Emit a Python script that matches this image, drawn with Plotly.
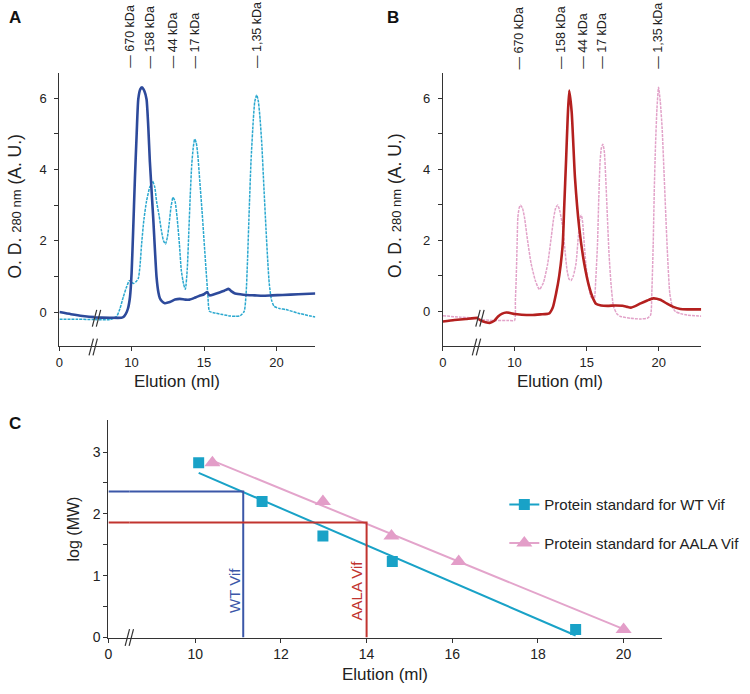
import numpy as np
import plotly.graph_objects as go

W, H = 750, 694
FONT = "Arial, 'Liberation Sans', Helvetica, sans-serif"
AXC = "#333333"

# ---------------- data ----------------
std_labels = ["670 kDa", "158 kDa", "44 kDa", "17 kDa", "1,35 kDa"]
std_mw_kda = [670, 158, 44, 17, 1.35]

# Panel A: WT Vif elution profile and protein standard
a_wt_x = [0, 0.8, 1.6, 2.42, 7.44, 8.5, 9.3, 9.43, 9.6, 9.75, 9.89, 10.0, 10.1, 10.23, 10.35,
          10.46, 10.6, 10.73, 10.88, 11.03, 11.15, 11.26, 11.49, 11.72, 11.85, 11.95, 12.1,
          12.29, 12.64, 13.0, 13.32, 13.7, 14.01, 14.35, 14.69, 15.0, 15.2, 15.38, 15.7,
          16.07, 16.4, 16.71, 16.9, 17.1, 17.5, 17.89, 18.5, 19.04, 19.7, 20.41, 21.5, 22.68]
a_wt_y = [0.0, -0.06, -0.11, -0.14, -0.15, -0.16, -0.16, -0.14, -0.05, 0.1, 0.43, 1.1, 2.2,
          3.76, 5.0, 5.97, 6.25, 6.30, 6.2, 5.97, 5.2, 4.22, 2.65, 0.99, 0.55, 0.39, 0.3, 0.25,
          0.28, 0.35, 0.37, 0.35, 0.35, 0.4, 0.46, 0.5, 0.56, 0.47, 0.5, 0.55, 0.6, 0.65, 0.58,
          0.53, 0.5, 0.48, 0.47, 0.46, 0.47, 0.48, 0.5, 0.52]
a_std_x = [0, 1.2, 2.42, 7.44, 8.5, 8.97, 9.2, 9.43, 9.65, 9.84, 10.0, 10.12, 10.3, 10.46,
           10.58, 10.69, 10.85, 11.03, 11.25, 11.44, 11.6, 11.72, 11.9, 12.06, 12.2, 12.34,
           12.47, 12.59, 12.72, 12.86, 13.0, 13.14, 13.3, 13.43, 13.58, 13.71, 13.84, 13.96,
           14.05, 14.15, 14.25, 14.35, 14.46, 14.57, 14.7, 14.86, 15.0, 15.14, 15.26, 15.38,
           15.8, 16.29, 16.8, 17.2, 17.5, 17.77, 17.9, 18.0, 18.12, 18.24, 18.4, 18.5, 18.63,
           18.75, 18.87, 18.99, 19.13, 19.27, 19.4, 19.5, 19.65, 19.84, 20.2, 20.65, 21.5, 22.68]
a_std_y = [-0.2, -0.2, -0.21, -0.21, -0.21, -0.12, 0.1, 0.43, 0.7, 0.88, 0.85, 0.8, 0.85, 0.94,
           1.3, 1.91, 2.6, 3.11, 3.5, 3.67, 3.5, 3.11, 2.7, 2.28, 2.0, 1.91, 2.1, 2.47, 2.95,
           3.22, 3.1, 2.65, 1.9, 1.17, 0.8, 0.64, 1.2, 2.37, 3.3, 4.13, 4.6, 4.85, 4.75, 4.4,
           3.7, 2.84, 2.0, 1.17, 0.5, 0.02, -0.03, -0.07, -0.11, -0.12, -0.1, 0.02, 0.5, 1.45,
           2.9, 4.22, 5.4, 5.9, 6.09, 5.9, 5.4, 4.68, 3.5, 2.37, 1.4, 0.8, 0.35, 0.16, 0.1,
           0.07, -0.03, -0.14]
a_label_x = [9.89, 11.26, 12.86, 14.39, 18.64]

# Panel B: AALA Vif elution profile and protein standard
b_aala_x = [0, 0.8, 1.6, 2.44, 7.48, 7.7, 8.0, 8.28, 8.6, 8.86, 9.15, 9.43, 9.7, 10.0, 10.5,
            11.15, 11.8, 12.41, 12.65, 12.88, 13.1, 13.34, 13.45, 13.57, 13.68, 13.79, 13.96,
            14.19, 14.48, 14.83, 15.17, 15.4, 15.64, 16.0, 16.44, 17.0, 17.48, 17.8, 18.06,
            18.4, 18.74, 19.2, 19.61, 20.1, 20.57, 21.0, 21.49, 22.0, 22.94]
b_aala_y = [-0.29, -0.25, -0.22, -0.19, -0.22, -0.27, -0.31, -0.33, -0.27, -0.15, -0.07,
            -0.04, -0.05, -0.08, -0.1, -0.11, -0.09, -0.06, 0.1, 0.5, 1.0, 1.89, 3.0, 4.22,
            5.4, 6.21, 5.61, 3.75, 2.36, 1.34, 0.69, 0.4, 0.21, 0.16, 0.15, 0.16, 0.15, 0.12,
            0.10, 0.15, 0.22, 0.3, 0.36, 0.32, 0.21, 0.12, 0.06, 0.05, 0.05]
b_std_x = [0, 1.2, 2.44, 7.48, 8.5, 9.5, 10.0, 10.06, 10.12, 10.18, 10.23, 10.32, 10.41, 10.55,
           10.69, 10.9, 11.15, 11.45, 11.72, 12.0, 12.3, 12.55, 12.72, 12.85, 12.99, 13.15,
           13.34, 13.5, 13.64, 13.78, 13.91, 14.08, 14.26, 14.42, 14.55, 14.63, 14.72, 14.83,
           14.94, 15.1, 15.29, 15.42, 15.52, 15.63, 15.75, 15.84, 15.93, 16.02, 16.12, 16.22,
           16.32, 16.44, 16.55, 16.7, 16.86, 17.1, 17.36, 18.0, 18.74, 19.2, 19.43, 19.52,
           19.61, 19.69, 19.77, 19.87, 19.98, 20.1, 20.23, 20.35, 20.46, 20.6, 20.76, 20.95,
           21.15, 21.5, 21.96, 22.94]
b_std_y = [-0.13, -0.17, -0.2, -0.24, -0.26, -0.26, -0.26, 0.3, 0.97, 1.9, 2.64, 2.9, 2.98,
           2.9, 2.64, 2.0, 1.34, 0.85, 0.61, 0.8, 1.34, 2.1, 2.64, 2.9, 2.99, 2.8, 2.36, 1.7,
           1.15, 0.9, 0.86, 1.0, 1.34, 2.1, 2.64, 2.7, 2.5, 1.9, 1.34, 0.8, 0.41, 0.33, 0.32,
           0.9, 1.89, 3.2, 4.22, 4.6, 4.7, 4.5, 3.75, 2.6, 1.6, 0.7, 0.13, -0.08, -0.15, -0.2,
           -0.22, -0.2, -0.11, 0.6, 1.89, 3.5, 4.68, 5.7, 6.3, 5.9, 5.14, 4.0, 2.92, 1.6, 0.5,
           0.1, -0.01, -0.07, -0.11, -0.14]
b_label_x = [10.3, 13.17, 14.79, 16.1, 19.98]

# Panel C: calibration
wt_std_elution = [10.08, 11.56, 12.98, 14.60, 18.88]
aala_std_elution = [10.40, 12.98, 14.58, 16.15, 20.00]
wt_vif_elution, wt_vif_logmw = 11.12, 2.36
aala_vif_elution, aala_vif_logmw = 14.0, 1.86

# ---------------- styling ----------------
NAVY = "#2d4a9b"
CYAN = "#2aa8cf"
RED = "#b4201f"
PINK = "#e2a3c9"
SQ = "#19a2c7"
TRI = "#e39dc8"
TRI_LINE = "#e3a4cb"
WT_LINE = "#3b57a8"
AALA_LINE = "#c1342f"


def px(x):
    return x / W


def py(y):
    return 1 - y / H


fig = go.Figure()

line_common = dict(shape="spline", smoothing=0.55)

# Panel A
for xa in ["x", "x2"]:
    fig.add_trace(go.Scatter(x=a_std_x, y=a_std_y, xaxis=xa, yaxis="y", mode="lines",
                             line=dict(color=CYAN, width=1.5, dash="3px,1px", **line_common),
                             showlegend=False, hoverinfo="skip"))
    fig.add_trace(go.Scatter(x=a_wt_x, y=a_wt_y, xaxis=xa, yaxis="y", mode="lines",
                             line=dict(color=NAVY, width=2.6, **line_common),
                             showlegend=False, hoverinfo="skip"))
# Panel B
for xa in ["x3", "x4"]:
    fig.add_trace(go.Scatter(x=b_std_x, y=b_std_y, xaxis=xa, yaxis="y2", mode="lines",
                             line=dict(color=PINK, width=1.5, dash="3px,1px", **line_common),
                             showlegend=False, hoverinfo="skip"))
    fig.add_trace(go.Scatter(x=b_aala_x, y=b_aala_y, xaxis=xa, yaxis="y2", mode="lines",
                             line=dict(color=RED, width=2.6, **line_common),
                             showlegend=False, hoverinfo="skip"))

# Panel C
log_mw = np.log10(std_mw_kda)
wt_fit = np.polyfit(wt_std_elution, log_mw, 1)
aala_fit = np.polyfit(aala_std_elution, log_mw, 1)
wt_fx = [min(wt_std_elution), max(wt_std_elution)]
aala_fx = [min(aala_std_elution), max(aala_std_elution)]

for xa in ["x5", "x6"]:
    fig.add_trace(go.Scatter(x=wt_fx, y=np.polyval(wt_fit, wt_fx), xaxis=xa, yaxis="y3",
                             mode="lines", line=dict(color=SQ, width=2),
                             showlegend=False, hoverinfo="skip"))
    fig.add_trace(go.Scatter(x=aala_fx, y=np.polyval(aala_fit, aala_fx), xaxis=xa, yaxis="y3",
                             mode="lines", line=dict(color=TRI_LINE, width=2),
                             showlegend=False, hoverinfo="skip"))
    fig.add_trace(go.Scatter(x=[0, wt_vif_elution, wt_vif_elution],
                             y=[wt_vif_logmw, wt_vif_logmw, 0], xaxis=xa, yaxis="y3",
                             mode="lines", line=dict(color=WT_LINE, width=2),
                             showlegend=False, hoverinfo="skip"))
    fig.add_trace(go.Scatter(x=[0, aala_vif_elution, aala_vif_elution],
                             y=[aala_vif_logmw, aala_vif_logmw, 0], xaxis=xa, yaxis="y3",
                             mode="lines", line=dict(color=AALA_LINE, width=2),
                             showlegend=False, hoverinfo="skip"))
    fig.add_trace(go.Scatter(x=wt_std_elution, y=log_mw, xaxis=xa, yaxis="y3", mode="markers",
                             marker=dict(symbol="square", size=11, color=SQ),
                             showlegend=False, hoverinfo="skip"))
    fig.add_trace(go.Scatter(x=aala_std_elution, y=log_mw, xaxis=xa, yaxis="y3", mode="markers",
                             marker=dict(symbol="triangle-up", size=14, color=TRI),
                             showlegend=False, hoverinfo="skip"))

# legend entries
fig.add_trace(go.Scatter(x=[None], y=[None], xaxis="x6", yaxis="y3", mode="lines+markers",
                         name="Protein standard for WT Vif", legendgroup="wt",
                         line=dict(color=SQ, width=2),
                         marker=dict(symbol="square", size=11, color=SQ)))
fig.add_trace(go.Scatter(x=[None], y=[None], xaxis="x6", yaxis="y3", mode="lines+markers",
                         name="Protein standard for AALA Vif", legendgroup="aala",
                         line=dict(color=TRI_LINE, width=2),
                         marker=dict(symbol="triangle-up", size=14, color=TRI)))

ax = dict(showline=True, linecolor=AXC, linewidth=1.2, ticks="outside", ticklen=4,
          tickwidth=1.2, tickcolor=AXC, showgrid=False, zeroline=False,
          tickfont=dict(size=13, color="#222"), fixedrange=True)
axc = dict(ax, tickfont=dict(size=14, color="#222"))

y6 = [0, 1, 2, 3, 4, 5, 6]
y6t = ["0", "", "2", "", "4", "", "6"]

fig.update_layout(
    width=W, height=H, autosize=False,
    margin=dict(l=0, r=0, t=0, b=0),
    paper_bgcolor="white", plot_bgcolor="rgba(0,0,0,0)",
    font=dict(family=FONT, color="#222"),
    showlegend=True,
    legend=dict(x=px(503), y=py(494), xanchor="left", yanchor="top",
                font=dict(size=15, color="#222"), traceorder="grouped",
                tracegroupgap=16, itemwidth=30, bgcolor="rgba(0,0,0,0)"),
    # Panel A
    xaxis=dict(ax, domain=[px(55.7), px(91)], range=[0, 2.42], anchor="y",
               tickvals=[0], ticktext=["0"]),
    xaxis2=dict(ax, domain=[px(91), px(313)], range=[7.44, 22.68], anchor="y",
                tickvals=[10, 15, 20]),
    yaxis=dict(ax, domain=[py(350), py(74)], range=[-0.95, 6.70], anchor="x",
               tickvals=y6, ticktext=y6t, ticklabelstandoff=5),
    # Panel B
    xaxis3=dict(ax, domain=[px(441.3), px(476.7)], range=[0, 2.44], anchor="y2",
                tickvals=[0], ticktext=["0"]),
    xaxis4=dict(ax, domain=[px(476.7), px(701)], range=[7.48, 22.94], anchor="y2",
                tickvals=[10, 15, 20]),
    yaxis2=dict(ax, domain=[py(350), py(74)], range=[-0.98, 6.70], anchor="x3",
                tickvals=y6, ticktext=y6t, ticklabelstandoff=5),
    # Panel C
    xaxis5=dict(axc, domain=[px(105), px(126)], range=[0, 0.4876], anchor="y3",
                tickvals=[0], ticktext=["0"]),
    xaxis6=dict(axc, domain=[px(126), px(661.7)], range=[8.461, 20.90], anchor="y3",
                tickvals=[10, 12, 14, 16, 18, 20]),
    yaxis3=dict(axc, domain=[py(645), py(425)], range=[0, 3.516], anchor="x5",
                tickvals=[0, 0.5, 1, 1.5, 2, 2.5, 3],
                ticktext=["0", "", "1", "", "2", "", "3"]),
)

ann = []
# marker-weight labels above the chromatograms
for xv, lab in zip(a_label_x, std_labels):
    ann.append(dict(x=xv, xref="x2", y=py(71), yref="paper", text="\u2014 " + lab,
                    textangle=-90, xanchor="center", yanchor="bottom", showarrow=False,
                    font=dict(size=12.5, color="#222")))
for xv, lab in zip(b_label_x, std_labels):
    ann.append(dict(x=xv, xref="x4", y=py(72), yref="paper", text="\u2014 " + lab,
                    textangle=-90, xanchor="center", yanchor="bottom", showarrow=False,
                    font=dict(size=12.5, color="#222")))
# panel letters
for t, x0, y0 in [("A", 3, 6), ("B", 383, 6), ("C", 3, 417)]:
    ann.append(dict(x=px(x0), y=py(y0), xref="paper", yref="paper", text="<b>%s</b>" % t,
                    xanchor="left", yanchor="top", showarrow=False,
                    font=dict(size=17, color="#111")))
# axis titles
ytitle = "O. D. <span style='font-size:13px'>280 nm</span> (A. U.)"
for xc in [11, 392.5]:
    ann.append(dict(x=px(xc), y=py(208), xref="paper", yref="paper", text=ytitle,
                    textangle=-90, xanchor="center", yanchor="middle", showarrow=False,
                    font=dict(size=17.5, color="#222")))
for xc, yc in [(173.5, 386), (559, 386), (383, 682)]:
    ann.append(dict(x=px(xc), y=py(yc), xref="paper", yref="paper", text="Elution (ml)",
                    xanchor="center", yanchor="middle", showarrow=False,
                    font=dict(size=17, color="#222")))
ann.append(dict(x=px(70), y=py(535), xref="paper", yref="paper", text="log (MW)",
                textangle=-90, xanchor="center", yanchor="middle", showarrow=False,
                font=dict(size=16, color="#222")))
# Vif labels
ann.append(dict(x=wt_vif_elution - 0.22, xref="x6", y=0.37, yref="y3", text="WT Vif",
                textangle=-90, xanchor="center", yanchor="bottom", showarrow=False,
                font=dict(size=15, color=WT_LINE)))
ann.append(dict(x=aala_vif_elution - 0.23, xref="x6", y=0.24, yref="y3", text="AALA Vif",
                textangle=-90, xanchor="center", yanchor="bottom", showarrow=False,
                font=dict(size=15, color=AALA_LINE)))
fig.update_layout(annotations=ann)

# axis-break marks
shapes = []
for cx, cy in [(89.7, 351), (93, 322), (475, 351), (478.5, 322), (126, 645)]:
    for dx in (-2.0, 2.0):
        shapes.append(dict(type="line", xref="paper", yref="paper",
                           x0=px(cx + dx - 2.2), y0=py(cy + 8.5),
                           x1=px(cx + dx + 2.2), y1=py(cy - 8.5),
                           line=dict(color=AXC, width=1.2)))
fig.update_layout(shapes=shapes)

page_js = (
    "var de=document.documentElement, bd=document.body;"
    "de.style.margin='0px'; de.style.padding='0px'; de.style.overflow='hidden';"
    "de.style.height='694px';"
    "bd.style.margin='0px'; bd.style.padding='0px'; bd.style.overflow='hidden';"
    "bd.style.height='694px';"
    "var gd=document.getElementsByClassName('plotly-graph-div')[0];"
    "if(gd&&gd.parentElement){gd.parentElement.style.height='694px';"
    "gd.parentElement.style.overflow='hidden';}"
)
fig.write_html("out.html", post_script=page_js, config={"displayModeBar": False})
